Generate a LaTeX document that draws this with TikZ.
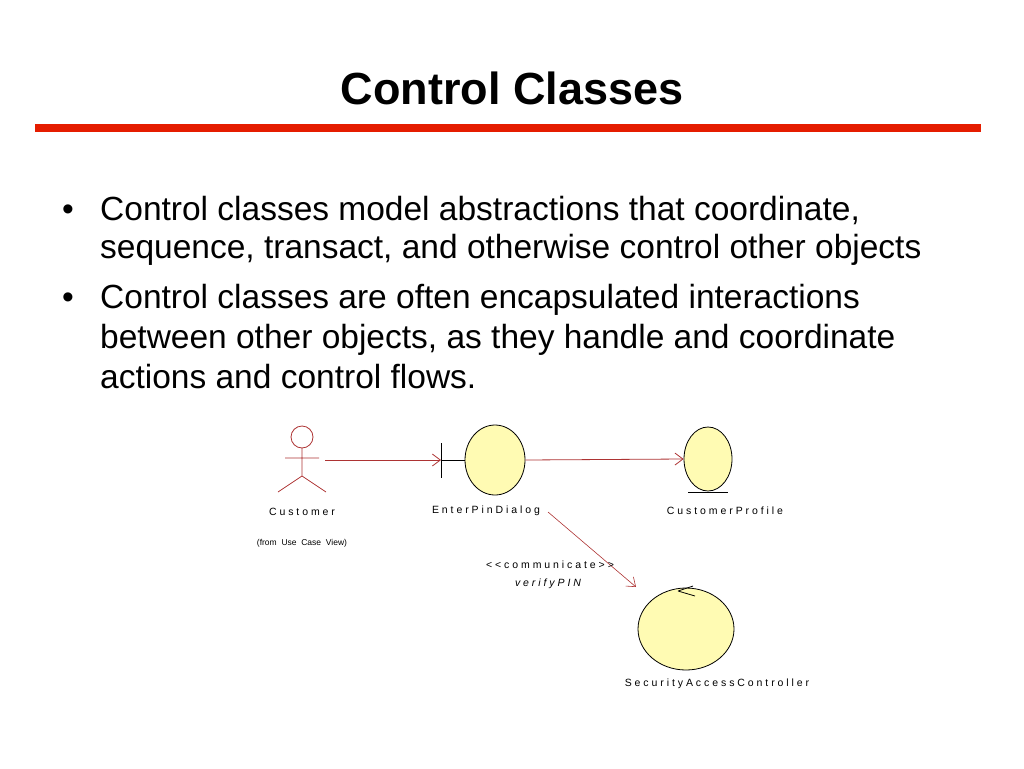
\documentclass[tikz,border=0pt]{standalone}
\usepackage{fontspec}
\setmainfont{Liberation Sans}
\usetikzlibrary{shapes.geometric,arrows.meta}
\begin{document}
\begin{tikzpicture}[x=1pt,y=-1pt,
 body/.style={font=\fontsize{33.5}{38}\selectfont,anchor=base west,inner sep=0},
 lab/.style={font=\fontsize{10.5}{12}\selectfont},
 rel/.style={draw=red!60!black!80,line width=0.8pt,-{Straight Barb[length=8pt,width=12pt]}},
 obj/.style={draw=black,fill=yellow!30!white,line width=0.8pt}]
\useasboundingbox (0,0) rectangle (1024,768);
\node[font=\bfseries\fontsize{45}{50}\selectfont] (title) at (512,88) {Control Classes};
\fill[red!75!orange!90!black] (35,124) rectangle (981,132);
\node[body] (b1) at (62,220) {•};
\node[body] (t1) at (100,220) {Control classes model abstractions that coordinate,};
\node[body] (t2) at (100,258) {sequence, transact, and otherwise control other objects};
\node[body] (b2) at (62,308) {•};
\node[body] (t3) at (100,308) {Control classes are often encapsulated interactions};
\node[body] (t4) at (100,348) {between other objects, as they handle and coordinate};
\node[body] (t5) at (100,388) {actions and control flows.};
% actor
\begin{scope}[draw=red!60!black!80,line width=0.8pt]
\draw (302,437) circle (11);
\draw (302,448) -- (302,476) (285,458) -- (319,458) (278,492) -- (302,476) -- (326,492);
\end{scope}
\coordinate (actor) at (325,460);
\node[lab] (cust) at (302,512) {C u s t o m e r};
\node[lab,font=\fontsize{8.5}{10}\selectfont] (from) at (302,543) {(from \ Use \ Case \ View)};
% boundary
\draw[line width=0.8pt] (441,443) -- (441,478) (441,460) -- (466,460);
\node[obj,ellipse,minimum width=60,minimum height=70,inner sep=0] (epd) at (495,460) {};
\coordinate (bar) at (441,460);
\node[lab] (epdl) at (486,511) {E n t e r P i n D i a l o g};
% entity
\node[obj,ellipse,minimum width=48,minimum height=64,inner sep=0] (cp) at (708,459) {};
\draw[line width=0.8pt] (688,492) -- (728,492);
\node[lab] (cpl) at (725,511) {C u s t o m e r P r o f i l e};
% control
\node[obj,ellipse,minimum width=96,minimum height=82,inner sep=0] (sac) at (686,629) {};
\draw[line width=0.8pt] (678,591) -- (695,596) (678,591) -- (693,586);
\node[lab] (sacl) at (717,684) {S e c u r i t y A c c e s s C o n t r o l l e r};
\coordinate (src) at (548,512);
\coordinate (dst) at (636,587);
\draw[rel] (actor) -- (bar);
\draw[rel] (epd.east) -- (cp.west);
\draw[rel,line width=0.6pt] (src) -- (dst);
\node[lab] (comm) at (550,565) {< < c o m m u n i c a t e > >};
\node[lab,font=\itshape\fontsize{10.5}{12}\selectfont] (vp) at (548,584) {v e r i f y P I N};
\end{tikzpicture}
\end{document}
